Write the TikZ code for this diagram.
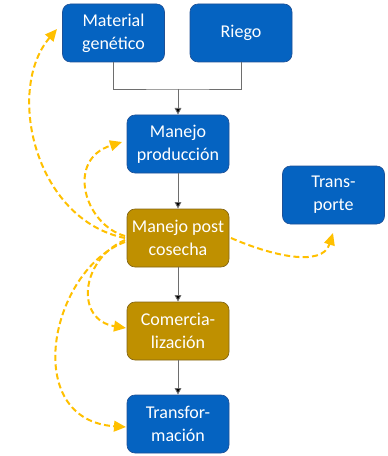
\documentclass[tikz,border=0pt]{standalone}
\usepackage{fontspec}
\setmainfont{Carlito}
\usetikzlibrary{arrows.meta}
\definecolor{boxblue}{RGB}{5,99,193}
\definecolor{boxblueline}{RGB}{30,80,150}
\definecolor{boxgold}{RGB}{191,144,0}
\definecolor{boxgoldline}{RGB}{130,100,20}
\definecolor{flowyellow}{RGB}{255,192,0}
\definecolor{linkgray}{RGB}{110,110,110}
\tikzset{
  stagebox/.style={rounded corners=6pt, minimum width=76.5pt, minimum height=43.5pt,
    inner sep=1pt, align=center, text=white, font=\fontsize{13.5}{17}\selectfont, line width=0.5pt},
  bluebox/.style={stagebox, fill=boxblue, draw=boxblueline},
  goldbox/.style={stagebox, fill=boxgold, draw=boxgoldline},
  link/.style={draw=linkgray, line width=0.7pt},
  linkarrow/.style={link, -{Triangle[length=5pt,width=5pt,fill=black]}},
  flow/.style={draw=flowyellow, line width=1.5pt, dash pattern=on 4.5pt off 2.5pt,
    -{Triangle[length=9pt,width=8pt,fill=flowyellow]}}
}
\begin{document}
\begin{tikzpicture}[x=0.75pt,y=-0.75pt]
\useasboundingbox (0,0) rectangle (388,456);
\node[bluebox] (mat) at (113.5,33) {Material\\genético};
\node[bluebox] (riego) at (241,33) {Riego};
\node[bluebox] (prod) at (178,144) {Manejo\\producción};
\node[bluebox] (tport) at (333.5,195) {Trans-\\porte};
\node[goldbox] (post) at (178,238) {Manejo post\\cosecha};
\node[goldbox] (com) at (178,331) {Comercia-\\lización};
\node[bluebox] (tform) at (178,424) {Transfor-\\mación};
\coordinate (j) at (178,89);
\draw[link] (mat.south) |- (j) -| (riego.south);
\draw[linkarrow] (j) -- (prod.north);
\draw[linkarrow] (prod) -- (post);
\draw[linkarrow] (post) -- (com);
\draw[linkarrow] (com) -- (tform);
\coordinate (pw1) at (125,236);
\coordinate (pw2) at (125,238);
\coordinate (pw3) at (125,240);
\coordinate (pw4) at (125,242);
\coordinate (pe) at (231,238);
\coordinate (tmat) at (57,29);
\coordinate (tprod) at (122,142);
\coordinate (ttport) at (333,233);
\coordinate (tcom) at (126,328);
\coordinate (ttform) at (126,427);
\draw[flow] (pw2) .. controls (35,220) and (5,90) .. (tmat);
\draw[flow] (pw1) .. controls (85,225) and (65,160) .. (tprod);
\draw[flow] (pe) .. controls (270,255) and (322,268) .. (ttport);
\draw[flow] (pw3) .. controls (80,260) and (75,320) .. (tcom);
\draw[flow] (pw4) .. controls (50,270) and (20,420) .. (ttform);
\end{tikzpicture}
\end{document}
